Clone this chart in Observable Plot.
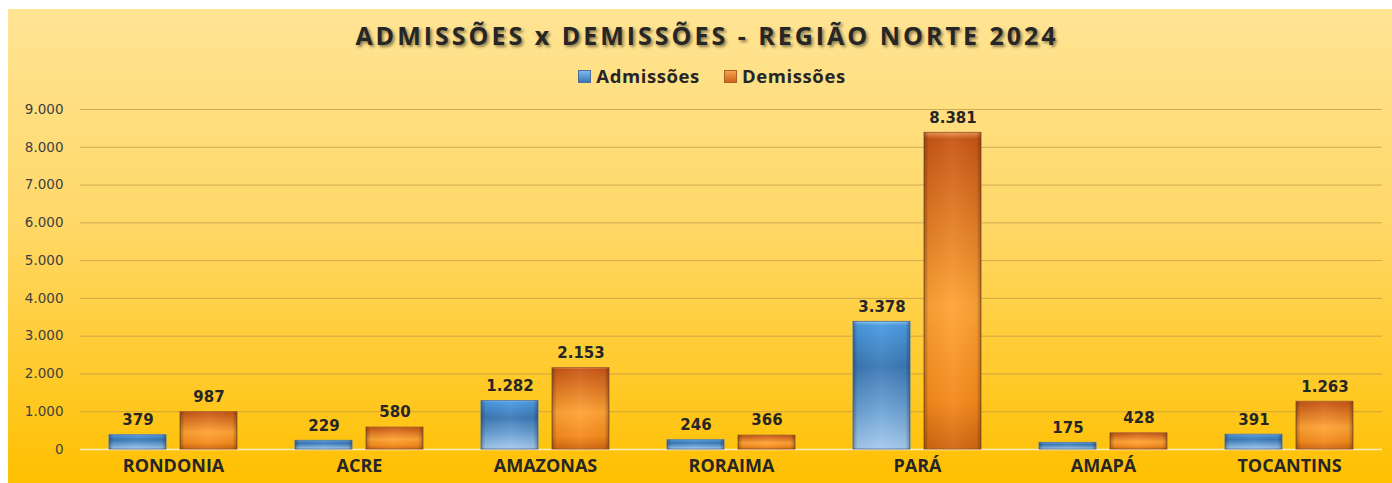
<!DOCTYPE html>
<html>
<head>
<meta charset="utf-8">
<script src="https://cdn.jsdelivr.net/npm/d3@7"></script>
<script src="https://cdn.jsdelivr.net/npm/@observablehq/plot@0.6"></script>
<style>
  html, body { margin: 0; padding: 0; background: #ffffff; }
  #box {
    position: absolute; left: 8px; top: 9px; width: 1384px; height: 474px;
    background: linear-gradient(to bottom, #FFE494 0%, #FFD868 45%, #FFC000 100%);
    overflow: hidden;
  }
  #title {
    position: absolute; left: 0; width: 1398px; top: 9px; text-align: center;
    font-family: "Open Sans", sans-serif; font-weight: 700; font-size: 25px;
    letter-spacing: 3px; color: #262626;
    text-shadow: 2px 2px 3px rgba(0,0,0,0.45);
  }
  #legend {
    position: absolute; left: 0; width: 1408px; top: 54px; text-align: center;
    font-family: "Open Sans", sans-serif; font-weight: 700; font-size: 18.5px; color: #262626;
    letter-spacing: 0.6px;
  }
  #legend span.item { margin: 0 12px; }
  #legend span.sw { display: inline-block; width: 11px; height: 11px; margin-right: 5px; vertical-align: 0px; }
  #chart { position: absolute; left: 0; top: 86px; }
</style>
</head>
<body>
<div id="box">
  <div id="title">ADMISSÕES x DEMISSÕES - REGIÃO NORTE 2024</div>
  <div id="legend"></div>
  <div id="chart"></div>
</div>
<script>
const categories = ["RONDONIA", "ACRE", "AMAZONAS", "RORAIMA", "PARÁ", "AMAPÁ", "TOCANTINS"];
const series = ["Admissões", "Demissões"];
const admissoes = [379, 229, 1282, 246, 3378, 175, 391];
const demissoes = [987, 580, 2153, 366, 8381, 428, 1263];
const yTicks = [0, 1000, 2000, 3000, 4000, 5000, 6000, 7000, 8000, 9000];

const locale = d3.formatLocale({decimal: ",", thousands: ".", grouping: [3], currency: ["R$", ""]});
const fmt = locale.format(",d");

const admData = categories.map((c, i) => ({cat: c, series: series[0], value: admissoes[i]}));
const demData = categories.map((c, i) => ({cat: c, series: series[1], value: demissoes[i]}));
const all = admData.concat(demData);

// legend
const legend = document.getElementById("legend");
legend.innerHTML =
  `<span class="item"><span class="sw" style="background:linear-gradient(#7FB8EC,#3A78B6);border:1px solid #4A6F98"></span>${series[0]}</span>` +
  `<span class="item"><span class="sw" style="background:linear-gradient(#F5A050,#D0661A);border:1px solid #A8602A"></span>${series[1]}</span>`;

const plot = Plot.plot({
  width: 1384,
  height: 388,
  marginLeft: 70,
  marginRight: 9,
  marginTop: 14,
  marginBottom: 34,
  style: {background: "transparent", overflow: "visible", fontFamily: "DejaVu Sans, sans-serif"},
  fx: {domain: categories, padding: 0, label: null},
  x: {domain: series, paddingInner: 0.194, paddingOuter: 0.39, axis: null},
  y: {domain: [0, 9000], label: null},
  marks: [
    Plot.gridY(yTicks, {stroke: "#BF9A48", strokeOpacity: 0.75, strokeWidth: 1}),
    Plot.ruleY([0], {stroke: "#FFF0C4", strokeWidth: 1.5}),
    Plot.axisY(yTicks, {tickFormat: fmt, tickSize: 0, tickPadding: 17, fontSize: 13.5, fill: "#404040", label: null}),
    Plot.axisFx({anchor: "bottom", tickSize: 0, tickPadding: 10, fontSize: 18, fontWeight: "bold",
                 fontFamily: "Open Sans, sans-serif", fill: "#262626", label: null}),
    Plot.barY(admData, {fx: "cat", x: "series", y: "value", fill: "url(#gBlue)", stroke: "#5B7FA6", strokeWidth: 1}),
    Plot.barY(demData, {fx: "cat", x: "series", y: "value", fill: "url(#gOrange)", stroke: "#A8602A", strokeWidth: 1}),
    Plot.barY(all, {fx: "cat", x: "series", y: "value", fill: "url(#gEdge)"}),
    Plot.text(all, {fx: "cat", x: "series", y: "value", text: d => fmt(d.value), dy: -15,
                    fontSize: 15, fontWeight: "bold", fill: "#262626", letterSpacing: "0.5px"})
  ]
});

// gradient defs
const svg = d3.select(plot);
const defs = svg.insert("defs", ":first-child");
function vgrad(id, stops) {
  const g = defs.append("linearGradient").attr("id", id).attr("x1", 0).attr("y1", 0).attr("x2", 0).attr("y2", 1);
  stops.forEach(([o, c, a]) => g.append("stop").attr("offset", o).attr("stop-color", c).attr("stop-opacity", a == null ? 1 : a));
}
vgrad("gBlue", [[0, "#8CC8F5"], [0.03, "#4C9BE2"], [0.35, "#3C79B5"], [0.7, "#6EA3D6"], [1, "#A6CBEE"]]);
vgrad("gOrange", [[0, "#F0955A"], [0.02, "#C85716"], [0.55, "#FFA436"], [0.85, "#F48A1C"], [1, "#D06612"]]);
const e = defs.append("linearGradient").attr("id", "gEdge").attr("x1", 0).attr("y1", 0).attr("x2", 1).attr("y2", 0);
[[0, "#000", 0.3], [0.08, "#000", 0.04], [0.5, "#fff", 0.05], [0.92, "#000", 0.04], [1, "#000", 0.3]]
  .forEach(([o, c, a]) => e.append("stop").attr("offset", o).attr("stop-color", c).attr("stop-opacity", a));

document.getElementById("chart").appendChild(plot);
</script>
</body>
</html>
